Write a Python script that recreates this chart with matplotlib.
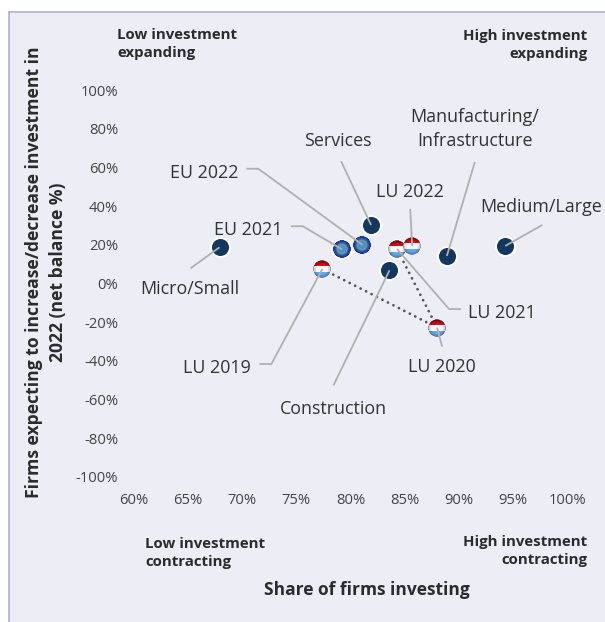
import numpy as np
import matplotlib
matplotlib.use("Agg")
import matplotlib.pyplot as plt
from matplotlib.patches import Rectangle
from matplotlib.offsetbox import OffsetImage, AnnotationBbox
from matplotlib.transforms import IdentityTransform

# ---- data ----
sector_names = ["Services", "Construction", "Manufacturing/\nInfrastructure", "Micro/Small", "Medium/Large"]
sector_x = [81.9, 83.6, 88.9, 67.9, 94.3]
sector_y = [30.2, 6.8, 14.2, 18.7, 19.4]

eu_names = ["EU 2021", "EU 2022"]
eu_x = [79.2, 81.1]
eu_y = [17.7, 20.0]

lu_names = ["LU 2019", "LU 2020", "LU 2021", "LU 2022"]
lu_x = [77.4, 88.0, 84.3, 85.7]
lu_y = [7.5, -22.8, 17.8, 19.4]

x_ticks = [60, 65, 70, 75, 80, 85, 90, 95, 100]
y_ticks = [-100, -80, -60, -40, -20, 0, 20, 40, 60, 80, 100]

# ---- layout (pixel offsets from each point: x right, y down) ----
W, H = 605, 622
leaders = {
    "Services": [(-30, -64)],
    "EU 2022": [(-116, -76), (-104, -76)],
    "EU 2021": [(-51, -23), (-39, -23)],
    "Micro/Small": [(-29, 21)],
    "LU 2019": [(-63, 95), (-51, 95)],
    "Construction": [(-56, 115)],
    "LU 2020": [(5, 19)],
    "LU 2021": [(64, 60), (52, 60)],
    "LU 2022": [(-2, -37)],
    "Manufacturing/\nInfrastructure": [(28, -94)],
    "Medium/Large": [(37, -21)],
}
label_offsets = {
    "Services": (-33, -84),
    "EU 2022": (-158, -72),
    "EU 2021": (-94, -19),
    "Micro/Small": (-30, 42),
    "LU 2019": (-105, 99),
    "Construction": (-56, 139),
    "LU 2020": (5, 39),
    "LU 2021": (105, 64),
    "LU 2022": (-2, -54),
    "Manufacturing/\nInfrastructure": (28, -127),
    "Medium/Large": (36, -39),
}
FONT = "Open Sans"
PANEL = "#ECEDF5"
EDGE = "#A9A9D6"
TXT = "#333333"
LEAD = "#B0B0B0"
NAVY = "#14375F"

plt.rcParams["font.family"] = [FONT, "DejaVu Sans"]
fig = plt.figure(figsize=(W / 100, H / 100), dpi=100, facecolor="white")

# background panel
fig.add_artist(Rectangle((9 / W, 0), 1 - 9 / W, 1 - 12 / H, transform=fig.transFigure,
                         facecolor=PANEL, edgecolor="none", zorder=-5))
fig.add_artist(plt.Line2D([9 / W, 9 / W], [0, 1 - 12 / H], color=EDGE, lw=1.1, zorder=-4))
fig.add_artist(plt.Line2D([9 / W, 1], [1 - 12 / H, 1 - 12 / H], color=EDGE, lw=1.1, zorder=-4))

ax = fig.add_axes([134 / W, 1 - 477 / H, (567 - 134) / W, (477 - 90) / H], facecolor="none")
ax.set_xlim(60, 100)
ax.set_ylim(-100, 100)
for s in ax.spines.values():
    s.set_visible(False)
ax.set_xticks(x_ticks, [f"{v}%" for v in x_ticks])
ax.set_yticks(y_ticks, [f"{v}%" for v in y_ticks])
ax.tick_params(axis="x", length=0, pad=11.5, labelsize=10.6, labelcolor="#444444")
ax.tick_params(axis="y", length=0, pad=11.5, labelsize=10.6, labelcolor="#444444")


def ball(kind, n=80):
    yy, xx = np.mgrid[-1:1:n * 1j, -1:1:n * 1j]
    r = np.hypot(xx, yy)
    img = np.zeros((n, n, 4))
    if kind == "lu":
        grad = np.clip((yy + 1) / 0.7, 0, 1)[..., None]
        red = np.array([0.55, 0.02, 0.06]) * (1 - grad) + np.array([0.88, 0.08, 0.12]) * grad
        white = np.array([0.98, 0.98, 0.98]) * np.ones_like(red)
        blue = np.array([0.40, 0.66, 0.92]) * np.ones_like(red)
        img[..., :3] = np.where(yy[..., None] < -0.30, red, np.where(yy[..., None] < 0.36, white, blue))
        shade = 1 - 0.30 * np.clip(r - 0.6, 0, 1) / 0.4
        img[..., :3] *= shade[..., None]
        rim = np.clip((r - 0.9) / 0.1, 0, 1)[..., None]
        img[..., :3] = img[..., :3] * (1 - rim) + np.array([0.55, 0.55, 0.55]) * rim
    else:
        inner = np.array([0.30, 0.62, 0.88])
        outer = np.array([0.07, 0.16, 0.50])
        t = np.clip(r, 0, 1)[..., None] ** 1.6
        img[..., :3] = inner * (1 - t) + outer * t
        ring = np.exp(-((r - 0.5) / 0.12) ** 2)[..., None] * 0.38
        img[..., :3] = img[..., :3] * (1 - ring) + np.array([0.78, 0.82, 0.42]) * ring
    img[..., 3] = np.clip((1 - r) * n / 2, 0, 1)
    return img


def add_ball(x, y, kind, z, halo=False):
    if halo:
        ax.scatter([x], [y], s=(21 * 0.72) ** 2, c="white", linewidths=0, zorder=z - 0.1)
    ab = AnnotationBbox(OffsetImage(ball(kind), zoom=18 / 80, interpolation="antialiased", dpi_cor=False),
                        (x, y), frameon=False, pad=0, zorder=z)
    ax.add_artist(ab)


# dotted trajectory for LU
ax.plot(lu_x[:3], lu_y[:3], ls=(0, (0.01, 2.2)), lw=2.0, color="#555555", zorder=2, dash_capstyle="round")

# sectors
ax.scatter(sector_x, sector_y, s=(19 * 0.72) ** 2, c=NAVY, edgecolors="white", linewidths=1.4, zorder=3)

for i in range(len(eu_x)):
    add_ball(eu_x[i], eu_y[i], "eu", 4 + i, halo=(i == 0))
for i in [0, 1, 2, 3]:
    add_ball(lu_x[i], lu_y[i], "lu", 6 + i, halo=(i == 2))

fig.canvas.draw()
names = sector_names + eu_names + lu_names
xs = sector_x + eu_x + lu_x
ys = sector_y + eu_y + lu_y
for name, x, y in zip(names, xs, ys):
    px, py = ax.transData.transform((x, y))
    pts = [(px + dx, py - dy) for dx, dy in leaders[name]] + [(px, py)]
    fig.add_artist(plt.Line2D([p[0] for p in pts], [p[1] for p in pts], color=LEAD, lw=1.3,
                              transform=IdentityTransform(), zorder=20, solid_capstyle="butt"))
    dx, dy = label_offsets[name]
    ax.annotate(name, (x, y), xytext=(dx * 0.72, -dy * 0.72), textcoords="offset points",
                ha="center", va="center", fontsize=12.9, color=TXT, linespacing=1.45,
                annotation_clip=False, zorder=21)


def ftext(px, py, s, **kw):
    fig.text(px / W, 1 - py / H, s, **kw)


bold = dict(fontsize=10.8, fontweight="bold", color="#2B2B2B", va="center", linespacing=1.4)
ftext(117, 44, "Low investment\nexpanding", ha="left", **bold)
ftext(587.5, 45, "High investment\nexpanding", ha="right", multialignment="right", **bold)
ftext(145, 553, "Low investment\ncontracting", ha="left", **bold)
ftext(587.5, 551, "High investment\ncontracting", ha="right", multialignment="right", **bold)
ftext(367, 590, "Share of firms investing", ha="center", va="center", fontsize=12.5,
      fontweight="bold", color="#2B2B2B")
ftext(46, 272.5, "Firms expecting to increase/decrease investment in\n2022 (net balance %)", ha="center",
      va="center", rotation=90, fontsize=12.6, fontweight="bold", color="#2B2B2B", linespacing=1.42)

fig.savefig("out.png", dpi=100, facecolor="white")
